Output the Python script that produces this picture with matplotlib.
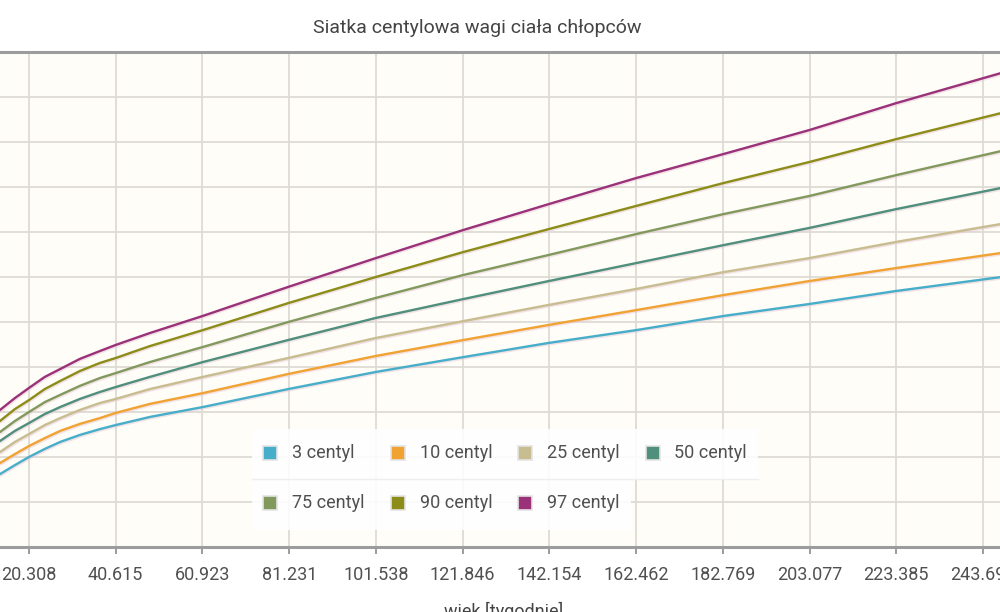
# -*- coding: utf-8 -*-
import numpy as np
import matplotlib.pyplot as plt
import matplotlib.patheffects as pe
from matplotlib.patches import Rectangle
from matplotlib.lines import Line2D

# wiek w tygodniach i waga [kg]
weeks = [13.5, 17, 20.3, 24, 27.6, 32.2, 36.9, 40.6, 48.6, 61, 81, 101.5,
         122, 142, 162.5, 183, 203, 223.4, 248]
c3 = [5.24, 5.64, 6.00, 6.36, 6.67, 6.98, 7.24, 7.42, 7.78, 8.22, 9.02, 9.78,
      10.44, 11.07, 11.64, 12.27, 12.80, 13.38, 14.00]
c10 = [5.73, 6.13, 6.49, 6.84, 7.16, 7.47, 7.73, 7.96, 8.36, 8.84, 9.69, 10.49,
       11.20, 11.87, 12.53, 13.20, 13.82, 14.40, 15.07]
c25 = [6.22, 6.67, 7.02, 7.42, 7.73, 8.09, 8.40, 8.58, 9.02, 9.56, 10.40, 11.29,
       12.04, 12.76, 13.47, 14.22, 14.84, 15.56, 16.36]
c50 = [6.71, 7.16, 7.51, 7.91, 8.22, 8.58, 8.89, 9.11, 9.56, 10.22, 11.20, 12.18,
       13.02, 13.82, 14.62, 15.42, 16.18, 17.02, 17.96]
c75 = [7.11, 7.60, 8.00, 8.44, 8.76, 9.16, 9.51, 9.73, 10.22, 10.89, 12.00, 13.07,
       14.09, 14.98, 15.91, 16.80, 17.60, 18.53, 19.60]
c90 = [7.60, 8.13, 8.53, 9.02, 9.38, 9.82, 10.18, 10.40, 10.93, 11.64, 12.84, 14.00,
       15.11, 16.13, 17.16, 18.18, 19.11, 20.13, 21.29]
c97 = [8.09, 8.62, 9.07, 9.56, 9.91, 10.36, 10.71, 10.98, 11.51, 12.27, 13.56, 14.84,
       16.09, 17.24, 18.40, 19.47, 20.53, 21.73, 23.07]

labels = ['3 centyl', '10 centyl', '25 centyl', '50 centyl', '75 centyl', '90 centyl', '97 centyl']
colors = ['#46aec9', '#f0a232', '#c8bd90', '#4f8f7c', '#82995d', '#8c8d18', '#9a327a']

x_max = 264
x_ticks = np.arange(0, x_max + 1, x_max / 13)

plt.rcParams['font.family'] = ['Roboto', 'DejaVu Sans']


def fmt(v):
    return ('%.3f' % v).rstrip('0').rstrip('.')


def draw_chart():
    fig = plt.figure(figsize=(10, 6.12), dpi=100)
    fig.patch.set_facecolor('white')

    # os wychodzi poza kadr (zrzut ekranu jest przyciety)
    ax = fig.add_axes([-0.0577, 0.1062, 1.1274, 0.8088])
    ax.set_facecolor('#fefdf7')
    ax.set_xlim(0, x_max)
    ax.set_ylim(2, 24)
    ax.set_xticks(x_ticks)
    ax.set_xticklabels([fmt(v) for v in x_ticks])
    ax.set_yticks(np.arange(2, 25, 2))
    ax.grid(True, color='#dedbd4', lw=1.3)
    ax.set_axisbelow(True)

    for side in ['top', 'bottom']:
        ax.spines[side].set_color('#9c9c9c')
        ax.spines[side].set_linewidth(2.2)
    for side in ['left', 'right']:
        ax.spines[side].set_visible(False)
    ax.tick_params(axis='x', length=5, width=1.4, color='#9c9c9c',
                   labelsize=13, labelcolor='#505050', pad=9)
    ax.tick_params(axis='y', length=0)

    series = [c3, c10, c25, c50, c75, c90, c97]
    for vals, col in zip(series, colors):
        ax.plot(weeks, vals, color=col, lw=1.7, solid_capstyle='round',
                solid_joinstyle='round',
                path_effects=[pe.SimpleLineShadow(offset=(0.6, -1.0),
                                                  shadow_color='#e8c9d6', alpha=0.5),
                              pe.Normal()])

    fig.text(0.477, 0.955, 'Siatka centylowa wagi ciała chłopców', ha='center',
             va='center', fontsize=14, color='#444444')
    fig.text(0.504, 0.017, 'wiek [tygodnie]', ha='center', va='top',
             fontsize=13, color='#444444')

    # legenda rysowana recznie (dwa wiersze o roznej szerokosci)
    W, H = 1000.0, 612.0

    def box(x0, y0, x1, y1):
        fig.add_artist(Rectangle((x0 / W, 1 - y1 / H), (x1 - x0) / W, (y1 - y0) / H,
                                 transform=fig.transFigure, facecolor='white',
                                 alpha=0.88, edgecolor='none', zorder=5))

    box(252, 429, 758, 479)
    box(252, 479, 631, 530)
    fig.add_artist(Line2D([252 / W, 758 / W], [1 - 479 / H, 1 - 479 / H],
                          transform=fig.transFigure, color='#eeeeee', lw=1, zorder=6))

    for i, (lab, col) in enumerate(zip(labels, colors)):
        row, cl = divmod(i, 4)
        cx = 263 + cl * 127.5
        cy = 453 + row * 50
        fig.add_artist(Rectangle((cx / W, 1 - (cy + 7) / H), 14 / W, 14 / H,
                                 transform=fig.transFigure, facecolor=col,
                                 edgecolor='#e4e4e4', lw=1.2, zorder=7))
        fig.text((cx + 29) / W, 1 - cy / H, lab, ha='left', va='center',
                 fontsize=13, color='#505050', zorder=7)

    fig.savefig('out.png', dpi=100)


def main():
    draw_chart()


if __name__ == '__main__':
    main()
